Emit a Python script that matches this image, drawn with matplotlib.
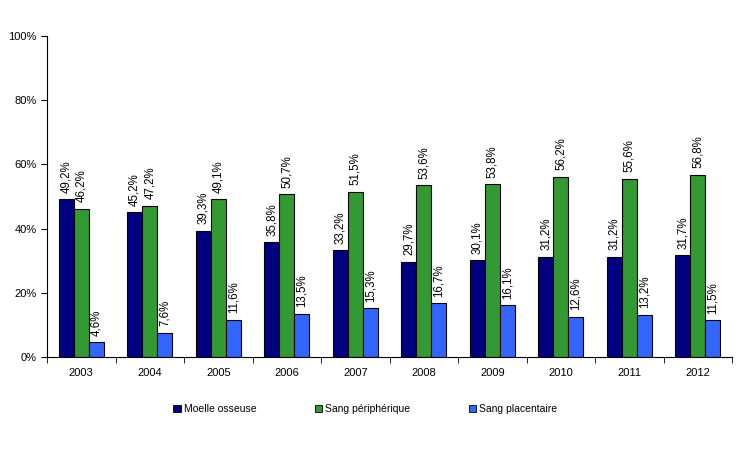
import matplotlib
matplotlib.use("Agg")
import matplotlib.pyplot as plt
import numpy as np

years = ["2003", "2004", "2005", "2006", "2007", "2008", "2009", "2010", "2011", "2012"]
moelle = [49.2, 45.2, 39.3, 35.8, 33.2, 29.7, 30.1, 31.2, 31.2, 31.7]
sang_peri = [46.2, 47.2, 49.1, 50.7, 51.5, 53.6, 53.8, 56.2, 55.6, 56.8]
sang_plac = [4.6, 7.6, 11.6, 13.5, 15.3, 16.7, 16.1, 12.6, 13.2, 11.5]
series_names = ["Moelle osseuse", "Sang périphérique", "Sang placentaire"]
colors = ["#000080", "#339933", "#3366FF"]

plt.rcParams['font.family'] = ['Liberation Sans', 'DejaVu Sans']

fig = plt.figure(figsize=(7.5, 4.59), dpi=100)
ax = fig.add_axes([0.0627, 0.222, 0.9133, 0.6996])

x = np.arange(len(years))
w = 0.22
for i, (vals, c, name) in enumerate(zip([moelle, sang_peri, sang_plac], colors, series_names)):
    pos = x + (i - 1) * w
    ax.bar(pos, vals, width=w, color=c, edgecolor="black", linewidth=0.8, label=name)
    for p, v in zip(pos, vals):
        ax.text(p, v + 2.0, f"{v:.1f}%".replace(".", ","), rotation=90,
                ha="center", va="bottom", fontsize=8.3)

ax.set_xlim(-0.5, len(years) - 0.5)
ax.set_ylim(0, 100)
ax.set_yticks(np.arange(0, 101, 20))
ax.set_yticklabels([f"{t}%" for t in range(0, 101, 20)], fontsize=8)
ax.set_xticks(x)
ax.set_xticklabels(years, fontsize=8)
ax.tick_params(axis="x", length=0, pad=8)
ax.set_xticks(np.arange(-0.5, len(years), 1), minor=True)
ax.tick_params(axis="x", which="minor", length=4, direction="out")
ax.tick_params(axis="y", length=4, direction="out")
for s in ["top", "right"]:
    ax.spines[s].set_visible(False)

leg = fig.legend(loc="center", bbox_to_anchor=(0.487, 0.108), ncol=3, frameon=False,
                 fontsize=7.5, handlelength=0.7, handleheight=0.7, columnspacing=5.6,
                 handletextpad=0.3)
for h in leg.legend_handles:
    h.set_edgecolor("black")
    h.set_linewidth(0.6)

fig.savefig("out.png", dpi=100)
